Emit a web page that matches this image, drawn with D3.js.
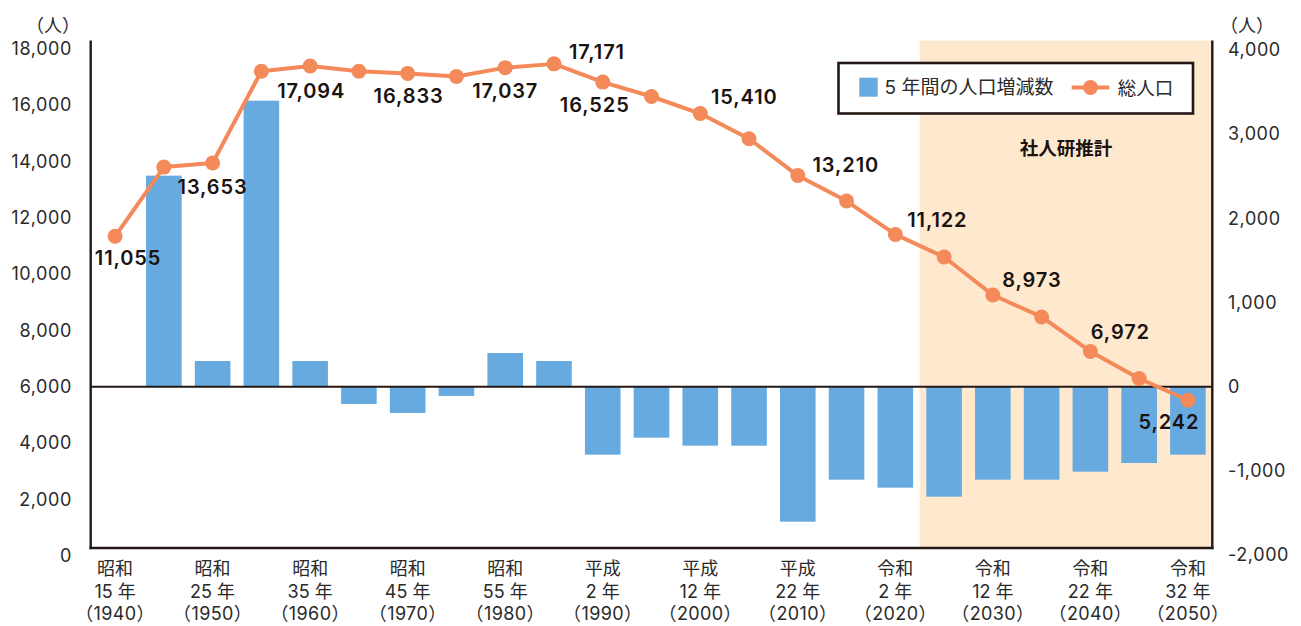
<!DOCTYPE html>
<html>
<head>
<meta charset="utf-8">
<script src="https://cdn.jsdelivr.net/npm/d3@7"></script>
<style>
  html, body { margin: 0; padding: 0; background: #fff; }
  svg { display: block; }
</style>
</head>
<body>
<svg id="chart" width="1301" height="626"></svg>
<script>
// ---------- data ----------
const years = ["1940","1945","1950","1955","1960","1965","1970","1975","1980","1985","1990","1995",
               "2000","2005","2010","2015","2020","2025","2030","2035","2040","2045","2050"];
// 総人口 (left axis)
const totalPopulation = [11055, 13510, 13653, 16911, 17094, 16911, 16833, 16723, 17037, 17171, 16525, 16014,
                         15410, 14516, 13210, 12305, 11122, 10321, 8973, 8195, 6972, 6012, 5242];
// 5年間の人口増減数 (right axis), from 1945
const changeYears = years.slice(1);
const fiveYearChange = [2507, 305, 3398, 305, -206, -312, -110, 400, 305, -808, -606,
                        -701, -701, -1604, -1105, -1200, -1307, -1105, -1105, -1010, -907, -808];
// x-axis labels
const tickYears = ["1940","1950","1960","1970","1980","1990","2000","2010","2020","2030","2040","2050"];
const eraLabels = ["昭和","昭和","昭和","昭和","昭和","平成","平成","平成","令和","令和","令和","令和"];
const eraYearLabels = ["15 年","25 年","35 年","45 年","55 年","2 年","12 年","22 年","2 年","12 年","22 年","32 年"];
const westernLabels = ["（1940）","（1950）","（1960）","（1970）","（1980）","（1990）","（2000）","（2010）","（2020）","（2030）","（2040）","（2050）"];
const leftTicks = [0, 2000, 4000, 6000, 8000, 10000, 12000, 14000, 16000, 18000];
const rightTicks = [-2000, -1000, 0, 1000, 2000, 3000, 4000];
const labeledYears = ["1940","1950","1960","1970","1980","1985","1990","2000","2010","2020","2030","2040","2050"];
const projectionStart = "2025";
const legendLabels = ["5 年間の人口増減数", "総人口"];
const projectionLabel = "社人研推計";
const unitLabel = "（人）";

// ---------- layout / style ----------
const plotL = 90.7, plotR = 1212.3, plotT = 40.5, plotB = 548;
const ink = "#231815";
const barColor = "#66AADF";
const lineColor = "#F4895A";
const shadeColor = "#FEE9CF";
const numFont = "Inter, 'Noto Sans CJK JP', sans-serif";
const jpFont = "Inter, 'Noto Sans CJK JP', sans-serif";
const cjkFont = "'Noto Sans CJK JP', sans-serif";
const fmt = v => d3.format(",")(v).replace("\u2212", "-");
// label offsets (dx, dy of text centre relative to point)
const labelOffsets = {
  "1940": [13, 22], "1950": [0, 24], "1960": [1, 25], "1970": [1, 23], "1980": [0, 23],
  "1985": [43, -12], "1990": [-8, 23], "2000": [44, -17], "2010": [48, -11],
  "2020": [42, -14], "2030": [39, -15], "2040": [30, -19], "2050": [-19, 22]
};

const svg = d3.select("#chart");

const x = d3.scaleBand().domain(years).range([plotL, plotR]).paddingInner(0.27).paddingOuter(0.135);
const xc = d => x(d) + x.bandwidth() / 2;
const yL = d3.scaleLinear().domain([0, 18000]).range([plotB, plotT]);
const yR = d3.scaleLinear().domain([-2000, 4000]).range([555, 50]);

// projection shading
const shadeX = xc(projectionStart) - x.step() / 2;
svg.append("rect")
  .attr("x", shadeX).attr("y", plotT)
  .attr("width", plotR - shadeX).attr("height", plotB - plotT)
  .attr("fill", shadeColor);

// bars
svg.append("g").selectAll("rect")
  .data(changeYears.map((y, i) => ({ year: y, v: fiveYearChange[i] })))
  .join("rect")
  .attr("x", d => x(d.year))
  .attr("width", x.bandwidth())
  .attr("y", d => Math.min(yR(d.v), yR(0)))
  .attr("height", d => Math.abs(yR(d.v) - yR(0)))
  .attr("fill", barColor);

// zero line
svg.append("line")
  .attr("x1", plotL).attr("x2", plotR)
  .attr("y1", yR(0)).attr("y2", yR(0))
  .attr("stroke", ink).attr("stroke-width", 2);

// frame lines (left, right, bottom)
svg.append("line").attr("x1", plotL).attr("x2", plotL).attr("y1", plotT).attr("y2", plotB + 1.2)
  .attr("stroke", ink).attr("stroke-width", 2.4);
svg.append("line").attr("x1", plotR).attr("x2", plotR).attr("y1", plotT).attr("y2", plotB + 1.2)
  .attr("stroke", ink).attr("stroke-width", 2.4);
svg.append("line").attr("x1", plotL - 1.2).attr("x2", plotR + 1.2).attr("y1", plotB).attr("y2", plotB)
  .attr("stroke", ink).attr("stroke-width", 2.6);

// left axis labels
const gL = svg.append("g").attr("transform", "translate(72,8)")
  .call(d3.axisLeft(yL).tickValues(leftTicks).tickSize(0).tickPadding(0).tickFormat(fmt));
gL.select(".domain").remove();
gL.selectAll("text").attr("font-family", numFont).attr("font-size", 18).attr("fill", "#2a2a2a")
  .attr("letter-spacing", "0.6px");

// right axis labels
const gR = svg.append("g").attr("transform", "translate(1228,0)")
  .call(d3.axisRight(yR).tickValues(rightTicks).tickSize(0).tickPadding(0).tickFormat(fmt));
gR.select(".domain").remove();
gR.selectAll("text").attr("font-family", numFont).attr("font-size", 18).attr("fill", "#2a2a2a")
  .attr("letter-spacing", "0.6px");

// unit labels
svg.append("text").attr("x", 53).attr("y", 24).attr("text-anchor", "middle").attr("dominant-baseline", "central")
  .attr("font-family", cjkFont).attr("font-size", 18).attr("fill", "#2a2a2a").text(unitLabel);
svg.append("text").attr("x", 1247).attr("y", 24).attr("text-anchor", "middle").attr("dominant-baseline", "central")
  .attr("font-family", cjkFont).attr("font-size", 18).attr("fill", "#2a2a2a").text(unitLabel);

// x-axis labels
const gx = svg.append("g");
const rowY = [568, 591.5, 613.5];
tickYears.forEach((yr, i) => {
  const cx = xc(yr);
  const rows = [eraLabels[i], eraYearLabels[i], westernLabels[i]];
  rows.forEach((t, j) => {
    gx.append("text").attr("x", cx).attr("y", rowY[j])
      .attr("text-anchor", "middle").attr("dominant-baseline", "central")
      .attr("font-family", jpFont).attr("font-size", 18).attr("fill", "#2a2a2a")
      .attr("letter-spacing", j === 2 ? "0.4px" : "0px")
      .text(t);
  });
});

// line
const line = d3.line().x((d, i) => xc(years[i])).y(d => yL(d));
svg.append("path").datum(totalPopulation)
  .attr("d", line).attr("fill", "none")
  .attr("stroke", lineColor).attr("stroke-width", 4).attr("stroke-linejoin", "round");
svg.append("g").selectAll("circle")
  .data(totalPopulation).join("circle")
  .attr("cx", (d, i) => xc(years[i])).attr("cy", d => yL(d)).attr("r", 7.5)
  .attr("fill", lineColor);

// data labels
svg.append("g").selectAll("text")
  .data(labeledYears).join("text")
  .attr("x", d => xc(d) + labelOffsets[d][0])
  .attr("y", d => yL(totalPopulation[years.indexOf(d)]) + labelOffsets[d][1])
  .attr("text-anchor", "middle").attr("dominant-baseline", "central")
  .attr("font-family", numFont).attr("font-size", 20).attr("font-weight", 600)
  .attr("letter-spacing", "0.9px").attr("fill", "#1a1311")
  .text(d => fmt(totalPopulation[years.indexOf(d)]));

// projection label
svg.append("text").attr("x", 1066).attr("y", 147).attr("text-anchor", "middle").attr("dominant-baseline", "central")
  .attr("font-family", cjkFont).attr("font-size", 18.5).attr("font-weight", 700)
  .attr("fill", "#1a1311").text(projectionLabel);

// legend
const lg = svg.append("g");
lg.append("rect").attr("x", 838.5).attr("y", 63).attr("width", 354.5).attr("height", 50.5)
  .attr("fill", "#fff").attr("stroke", ink).attr("stroke-width", 2.6);
lg.append("rect").attr("x", 859.3).attr("y", 77.7).attr("width", 18.4).attr("height", 19).attr("fill", barColor);
lg.append("text").attr("x", 884.5).attr("y", 87.5).attr("dominant-baseline", "central")
  .attr("font-family", jpFont).attr("font-size", 19).attr("fill", "#2a2a2a").text(legendLabels[0]);
lg.append("line").attr("x1", 1071.7).attr("x2", 1109.3).attr("y1", 87.5).attr("y2", 87.5)
  .attr("stroke", lineColor).attr("stroke-width", 4);
lg.append("circle").attr("cx", 1090.5).attr("cy", 87.5).attr("r", 7.5).attr("fill", lineColor);
lg.append("text").attr("x", 1117.7).attr("y", 87.5).attr("dominant-baseline", "central")
  .attr("font-family", jpFont).attr("font-size", 18.5).attr("fill", "#2a2a2a").text(legendLabels[1]);
</script>
</body>
</html>
